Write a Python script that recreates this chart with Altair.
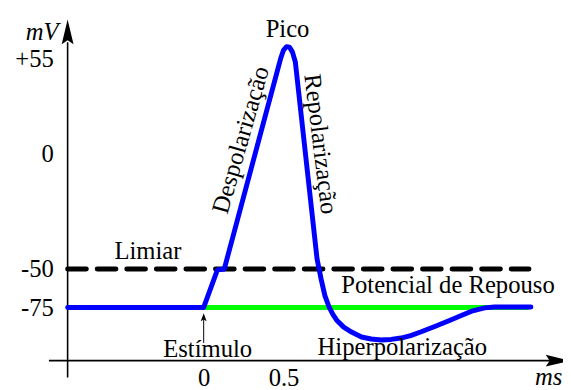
import altair as alt
import pandas as pd

FONT = "Liberation Serif, DejaVu Serif, serif"
FS = 25

# ticks (ms / mV)
tick_ms = [0, 0.5]
tick_mv = [55, 0, -50, -75]

# action potential curve: time (ms), membrane potential (mV)
ap_t = [-0.852, 0.0, 0.086, 0.129, 0.481, 0.500, 0.519, 0.537, 0.556, 0.574,
        0.710, 0.735, 0.759, 0.784, 0.809, 0.833, 0.877, 0.926, 0.988, 1.049,
        1.111, 1.173, 1.235, 1.296, 1.358, 1.451, 1.543, 1.617, 1.685, 1.759,
        1.821, 2.049]
ap_v = [-75, -75, -50.6, -50, 55.0, 60.2, 62.2, 61.9, 59.0, 53.3,
        -45.7, -56.4, -67.3, -74.4, -79.5, -83.3, -87.8, -91.0, -94.2, -95.5,
        -96.2, -95.8, -94.9, -93.3, -91.0, -87.2, -83.3, -80.1, -77.2, -75.3,
        -74.7, -74.7]

# resting potential and threshold
rest_t = [-0.852, 2.037]
rest_v = [-75, -75]
thr_t = [-0.852, 2.037]
thr_v = [-50, -50]

# annotations
label_text = ["Pico", "Despolarização", "Repolarização", "Limiar",
              "Potencial de Repouso", "Hiperpolarização", "Estímulo"]
label_t = [0.525, 0.231, 0.733, -0.349, 1.530, 1.244, 0.025]
label_v = [72.2, 8.0, 5.6, -42.1, -60.3, -101.0, -102.2]
label_angle = [0, 286, 83, 0, 0, 0, 0]

unit_text = ["mV", "ms"]
unit_t = [-1.012, 2.160]
unit_v = [70.8, -120.5]

# axis lines (drawn as arrows)
xaxis_t = [-0.969, 2.191]
xaxis_v = -109.6
yaxis_t = -0.852
yaxis_v = [-120.5, 64.7]
xarrow = (2.219, -109.6)
yarrow = (-0.852, 70.8)

# stimulus arrow
stim_t = 0.0
stim_v = [-98.1, -82.7]
stim_head_v = -81.4

xs = alt.Scale(domain=[0, 0.5], range=[198.5, 279.5], nice=False, zero=False)
ys = alt.Scale(domain=[-75, -50, 0, 55], range=[301, 262, 145, 49], nice=False, zero=False)

x_axis = alt.Axis(values=tick_ms, labelExpr="'' + datum.value", offset=-27,
                  domain=False, ticks=False, tickSize=0, grid=False, labelPadding=5,
                  labelFont=FONT, labelFontSize=FS, labelColor="black", title=None,
                  labelFlush=False, labelOverlap=False)
y_axis = alt.Axis(values=tick_mv,
                  labelExpr="datum.value > 0 ? '+' + datum.value : '' + datum.value",
                  offset=-60, domain=False, ticks=False, tickSize=0, grid=False,
                  labelPadding=14, labelFont=FONT, labelFontSize=FS, labelColor="black",
                  title=None, labelFlush=False, labelOverlap=False)

X = alt.X("t:Q", scale=xs, axis=x_axis)
Y = alt.Y("v:Q", scale=ys, axis=y_axis)

# layers
xline = alt.Chart(pd.DataFrame({"t": [xaxis_t[0]], "t2": [xaxis_t[1]], "v": [xaxis_v]})).mark_rule(
    color="black", strokeWidth=1.6).encode(x=X, x2="t2:Q", y=Y)
yline = alt.Chart(pd.DataFrame({"t": [yaxis_t], "v": [yaxis_v[0]], "v2": [yaxis_v[1]]})).mark_rule(
    color="black", strokeWidth=1.6).encode(x=X, y=Y, y2="v2:Q")

rest = alt.Chart(pd.DataFrame({"t": rest_t, "v": rest_v})).mark_line(
    color="#00ff00", strokeWidth=5).encode(x=X, y=Y)
thr = alt.Chart(pd.DataFrame({"t": thr_t, "v": thr_v})).mark_line(
    color="black", strokeWidth=5, strokeDash=[19, 11], strokeCap="round").encode(x=X, y=Y)

ap = alt.Chart(pd.DataFrame({"t": ap_t, "v": ap_v, "i": list(range(len(ap_t)))})).mark_line(
    color="#0000ff", strokeWidth=5, strokeJoin="round", strokeCap="round",
    interpolate="linear").encode(x=X, y=Y, order="i:Q")

up_path = "M0,-1 L0.48,1 L0,0.68 L-0.48,1 Z"
right_path = "M1,0 L-1,0.48 L-0.68,0 L-1,-0.48 Z"
small_up = "M0,-1 L0.75,1 L0,0.55 L-0.75,1 Z"

yhead = alt.Chart(pd.DataFrame({"t": [yarrow[0]], "v": [yarrow[1]]})).mark_point(
    shape=up_path, filled=True, color="black", size=625, opacity=1).encode(x=X, y=Y)
xhead = alt.Chart(pd.DataFrame({"t": [xarrow[0]], "v": [xarrow[1]]})).mark_point(
    shape=right_path, filled=True, color="black", size=625, opacity=1).encode(x=X, y=Y)

stim_line = alt.Chart(pd.DataFrame({"t": [stim_t], "v": [stim_v[0]], "v2": [stim_v[1]]})).mark_rule(
    color="black", strokeWidth=1).encode(x=X, y=Y, y2="v2:Q")
stim_head = alt.Chart(pd.DataFrame({"t": [stim_t], "v": [stim_head_v]})).mark_point(
    shape=small_up, filled=True, color="black", size=64, opacity=1).encode(x=X, y=Y)

labels = alt.Chart(pd.DataFrame({"t": label_t, "v": label_v, "label": label_text,
                                 "a": label_angle})).mark_text(
    font=FONT, fontSize=FS, align="center", baseline="middle", color="black").encode(
    x=X, y=Y, text="label:N", angle=alt.Angle("a:Q", scale=None))

units = alt.Chart(pd.DataFrame({"t": unit_t, "v": unit_v, "label": unit_text})).mark_text(
    font=FONT, fontSize=FS, fontStyle="italic", align="center", baseline="middle",
    color="black").encode(x=X, y=Y, text="label:N")

chart = alt.layer(xline, yline, rest, thr, ap, yhead, xhead, stim_line, stim_head,
                  labels, units).properties(
    width=563, height=382, padding=0, autosize="none", background="white"
).configure_view(stroke=None)

chart.save("out.html", embed_options={"renderer": "svg", "actions": False})
